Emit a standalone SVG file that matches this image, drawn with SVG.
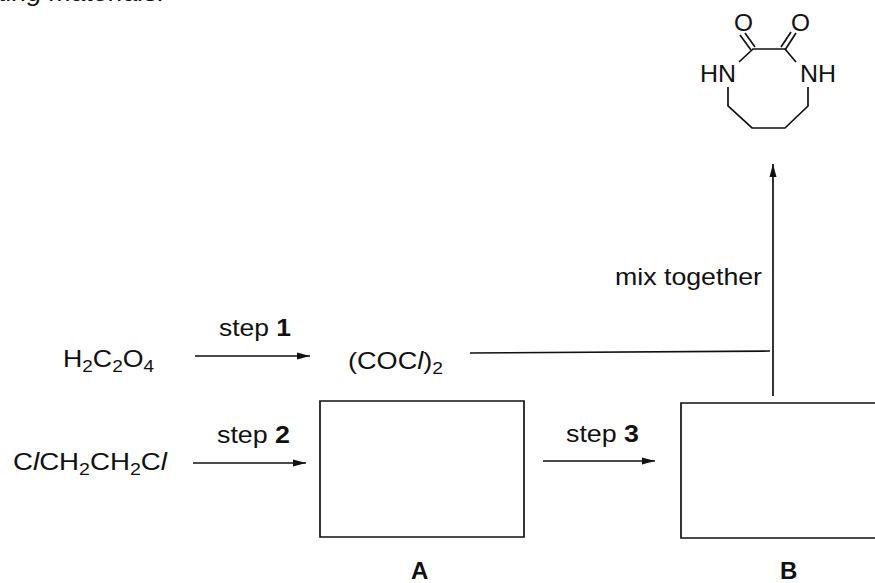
<svg xmlns="http://www.w3.org/2000/svg" width="875" height="583" viewBox="0 0 875 583">
<style>
text{font-family:"Liberation Sans",Arial,sans-serif;font-size:24px;fill:#111}
.b{font-weight:bold}
.s{font-size:17px}
.ln{fill:none;stroke:#111;stroke-width:1.3}
.th{fill:none;stroke:#111;stroke-width:1.7}
</style>
<defs><marker id="ah" markerUnits="userSpaceOnUse" markerWidth="14" markerHeight="8" refX="13" refY="4" orient="auto"><path d="M0 .5L13 4L0 7.5z" fill="#111"/></marker></defs>
<rect width="875" height="583" fill="#fff"/>
<text x="-1" y="1" font-style="italic" textLength="166" lengthAdjust="spacingAndGlyphs">ting materials.</text>
<g id="connectors">
<path class="ln" d="M195 356H310" marker-end="url(#ah)"/>
<path class="ln" d="M193 463H306" marker-end="url(#ah)"/>
<path class="th" d="M543 461H655" marker-end="url(#ah)"/>
<path class="th" d="M470 353L770 351"/>
<path class="th" d="M773 396V164" marker-end="url(#ah)"/>
</g>
<g id="product">
<path class="th" d="M728 87V106L752 128H785L808 106V87M739 62L753 49H785L796 62"/>
<path class="th" d="M740 35L751 50M745 33L755 47M785 50L796 33M781 47L791 32"/>
<text x="734" y="31" textLength="19" lengthAdjust="spacingAndGlyphs">O</text>
<text x="791" y="31" textLength="19" lengthAdjust="spacingAndGlyphs">O</text>
<text x="700" y="82" textLength="36" lengthAdjust="spacingAndGlyphs">HN</text>
<text x="800" y="82" textLength="36" lengthAdjust="spacingAndGlyphs">NH</text>
</g>
<g id="label-h2c2o4"><text x="63" y="367" textLength="91" lengthAdjust="spacingAndGlyphs">H<tspan class="s" dy="5">2</tspan><tspan dy="-5">C</tspan><tspan class="s" dy="5">2</tspan><tspan dy="-5">O</tspan><tspan class="s" dy="5">4</tspan></text></g>
<g id="label-step1"><text x="219" y="336" textLength="72" lengthAdjust="spacingAndGlyphs">step <tspan class="b">1</tspan></text></g>
<g id="label-coccl"><text x="348" y="369" textLength="95" lengthAdjust="spacingAndGlyphs">(COC<tspan font-style="italic">l</tspan>)<tspan class="s" dy="5">2</tspan></text></g>
<g id="label-clch"><text x="13" y="470" textLength="154" lengthAdjust="spacingAndGlyphs">C<tspan font-style="italic">l</tspan>CH<tspan class="s" dy="5">2</tspan><tspan dy="-5">CH</tspan><tspan class="s" dy="5">2</tspan><tspan dy="-5">C</tspan><tspan font-style="italic">l</tspan></text></g>
<g id="label-step2"><text x="217" y="443" textLength="73" lengthAdjust="spacingAndGlyphs">step <tspan class="b">2</tspan></text></g>
<g id="label-step3"><text x="566" y="442" textLength="73" lengthAdjust="spacingAndGlyphs">step <tspan class="b">3</tspan></text></g>
<g id="label-mix"><text x="615" y="285" textLength="147" lengthAdjust="spacingAndGlyphs">mix together</text></g>
<g id="box-a"><path class="th" d="M320 401H524V537H320z"/><text class="b" x="411" y="579">A</text></g>
<g id="box-b"><path class="th" d="M875 403H681V538H875"/><text class="b" x="780" y="579">B</text></g>
</svg>
